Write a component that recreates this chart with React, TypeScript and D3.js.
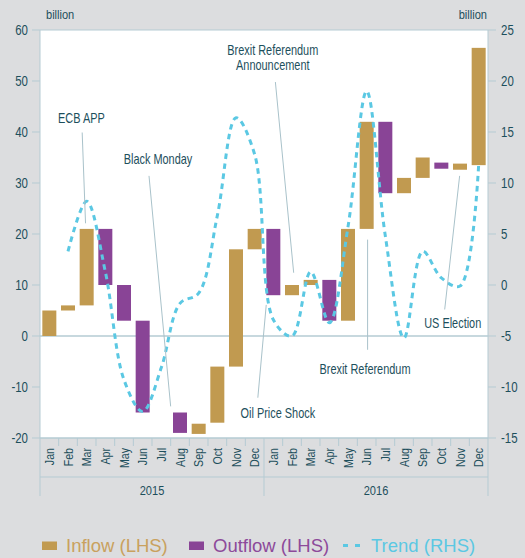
import React, { useEffect } from 'react';
import * as d3 from 'd3';

// categories
const months = ['Jan', 'Feb', 'Mar', 'Apr', 'May', 'Jun', 'Jul', 'Aug', 'Sep', 'Oct', 'Nov', 'Dec'];
const years = ['2015', '2016'];

// waterfall flows (LHS, billion): start and end level of each month
const flowFrom = [0, 5, 6, 21, 10, 3, -15, -15, -19.2, -17, -6, 17, 21, 8, 10, 11, 3, 21, 42, 28, 31, 34, 32.6, 33.5];
const flowTo = [5, 6, 21, 10, 3, -15, -15, -19, -17.2, -6, 17, 21, 8, 10, 11, 3, 21, 42, 28, 31, 35, 32.8, 33.8, 56.5];

// trend (RHS, billion)
const trend = [null, 3.3, 8.2, 1.3, -9.3, -12.4, -8.1, -1.8, -0.8, 6.8, 16.4, 12.8, -3.4, -5.0, 1.3, -3.7, 5.7, 19, 4.8, -5.2, 3.3, 0.7, -0.1, 11.8];

const leftTicks = [60, 50, 40, 30, 20, 10, 0, -10, -20];
const rightTicks = [25, 20, 15, 10, 5, 0, -5, -10, -15];

// annotation texts
const notes = [
  ['ECB APP'],
  ['Black Monday'],
  ['Brexit Referendum', 'Announcement'],
  ['Oil Price Shock'],
  ['Brexit Referendum'],
  ['US Election'],
];
// where each note sits, in (month index, LHS value) units: label centre, leader start, leader end
const notePlacement = [
  { label: [1.72, 42.8], from: [1.76, 39.9], to: [1.94, 22.1] },
  { label: [5.82, 34.7], from: [5.34, 31.4], to: [6.5, -13.8] },
  { label: [11.97, 56.1], from: [12.11, 49.8], to: [13.09, 12.4] },
  { label: [12.24, -15.1], from: [11.62, 6.1], to: [11.17, -12.1] },
  { label: [16.91, -6.4], from: [17.05, 18.9], to: [17.05, -2.7] },
  { label: [21.61, 2.6], from: [21.18, 5.2], to: [21.98, 31.4] },
];

const W = 525;
const H = 558;
const M = { left: 40, right: 37, top: 30, bottom: 120 };
const BG = '#dcdddf';
const INK = '#1d4f5c';
const AXIS = '#b5cbd3';
const INFLOW = '#c19a50';
const OUTFLOW = '#894496';
const TREND = '#5bc8e3';
const FONT = "'Liberation Sans', Arial, sans-serif";

// text drawn with a horizontal squeeze, since no narrow face is installed
const Narrow = ({ x, y, rotate = 0, anchor = 'start', size = 13, squeeze = 0.82, children }: any) => (
  <g transform={`translate(${x},${y}) rotate(${rotate}) scale(${squeeze},1)`}>
    <text textAnchor={anchor} dy="0.36em" fill={INK} fontFamily={FONT} fontSize={size}>{children}</text>
  </g>
);

const App = () => {
  useEffect(() => {
    document.body.style.margin = '0';
  }, []);

  const cats = years.flatMap(y => months.map(m => `${m} ${y}`));
  const x = d3.scaleBand().domain(cats).range([M.left, W - M.right]).paddingInner(0.25).paddingOuter(0.125);
  const yL = d3.scaleLinear().domain([-20, 60]).range([H - M.bottom, M.top]);
  const yR = d3.scaleLinear().domain([-15, 25]).range([H - M.bottom, M.top]);
  const step = x.step();
  const mx = (m: number) => M.left + (m + 0.5) * step;

  const trendLine = d3.line<number | null>()
    .defined(d => d != null)
    .x((_, i) => (x(cats[i]) as number) + x.bandwidth() / 2)
    .y(d => yR(d as number))
    .curve(d3.curveCatmullRom.alpha(0.5));

  const bottom = H - M.bottom;
  const right = W - M.right;
  const yearLineY = bottom + 39;

  return (
    <svg width={W} height={H} style={{ position: 'absolute', left: 0, top: 0, background: BG }}>
      <rect x={M.left} y={M.top} width={right - M.left} height={bottom - M.top} fill="#fff" />
      {/* frame */}
      <line x1={M.left} x2={right} y1={M.top} y2={M.top} stroke={AXIS} />
      <line x1={M.left} x2={M.left} y1={M.top} y2={bottom + 58} stroke={AXIS} />
      <line x1={right} x2={right} y1={M.top} y2={bottom + 58} stroke={AXIS} />
      <line x1={M.left} x2={right} y1={bottom} y2={bottom} stroke={AXIS} strokeWidth={1.5} />
      <line x1={M.left} x2={right} y1={yL(0)} y2={yL(0)} stroke={AXIS} strokeWidth={1.5} />

      {/* left axis */}
      <Narrow x={46} y={14} size={13.5}>billion</Narrow>
      {leftTicks.map(t => (
        <g key={'l' + t}>
          <line x1={M.left - 8} x2={M.left} y1={yL(t)} y2={yL(t)} stroke={AXIS} />
          <Narrow x={M.left - 12} y={yL(t)} anchor="end" size={14}>{t}</Narrow>
        </g>
      ))}
      {/* right axis */}
      <Narrow x={right - 1} y={14} anchor="end" size={13.5}>billion</Narrow>
      {rightTicks.map(t => (
        <g key={'r' + t}>
          <line x1={right} x2={right + 8} y1={yR(t)} y2={yR(t)} stroke={AXIS} />
          <Narrow x={right + 13} y={yR(t)} size={14}>{t}</Narrow>
        </g>
      ))}

      {/* category axis */}
      {cats.map((c, i) => (
        <g key={c}>
          {i > 0 && i % 12 !== 0 && (
            <line x1={M.left + i * step} x2={M.left + i * step} y1={bottom} y2={bottom + 8} stroke={AXIS} />
          )}
          <Narrow x={(x(c) as number) + x.bandwidth() / 2} y={bottom + 10} rotate={-90} anchor="end" size={13}>
            {months[i % 12]}
          </Narrow>
        </g>
      ))}
      <line x1={M.left + 12 * step} x2={M.left + 12 * step} y1={bottom} y2={bottom + 58} stroke={AXIS} />
      <line x1={M.left} x2={right} y1={yearLineY} y2={yearLineY} stroke={AXIS} />
      {years.map((y, k) => (
        <Narrow key={y} x={M.left + (k * 12 + 6) * step} y={yearLineY + 13} anchor="middle" size={13.5}>{y}</Narrow>
      ))}

      {/* bars */}
      {cats.map((c, i) => {
        const a = flowFrom[i];
        const b = flowTo[i];
        if (a === b) return null;
        return (
          <rect key={'b' + c} x={x(c)} width={x.bandwidth()}
            y={yL(Math.max(a, b))} height={Math.abs(yL(a) - yL(b))}
            fill={b > a ? INFLOW : OUTFLOW} />
        );
      })}

      {/* trend */}
      <path d={trendLine(trend) || ''} fill="none" stroke={TREND} strokeWidth={3} strokeDasharray="5.5 4.5" />

      {/* annotations */}
      {notes.map((lines, k) => {
        const p = notePlacement[k];
        return (
          <g key={'n' + k}>
            <line x1={mx(p.from[0])} y1={yL(p.from[1])} x2={mx(p.to[0])} y2={yL(p.to[1])} stroke="#a9c2ca" strokeWidth={1} />
            {lines.map((t, j) => (
              <Narrow key={t} x={mx(p.label[0])} y={yL(p.label[1]) + j * 15} anchor="middle" size={14} squeeze={0.78}>{t}</Narrow>
            ))}
          </g>
        );
      })}

      {/* legend */}
      <g fontFamily={FONT} fontSize={18.5}>
        <rect x={42} y={541.5} width={15} height={8.5} fill={INFLOW} />
        <text x={66} y={551.5} fill="#c9a15e">Inflow (LHS)</text>
        <rect x={189} y={541.5} width={15} height={8.5} fill={OUTFLOW} />
        <text x={213} y={551.5} fill="#8d4a9a">Outflow (LHS)</text>
        <line x1={343} x2={360} y1={545.5} y2={545.5} stroke={TREND} strokeWidth={3} strokeDasharray="5 7" />
        <text x={371} y={551.5} fill={TREND}>Trend (RHS)</text>
      </g>
    </svg>
  );
};

export default App;
